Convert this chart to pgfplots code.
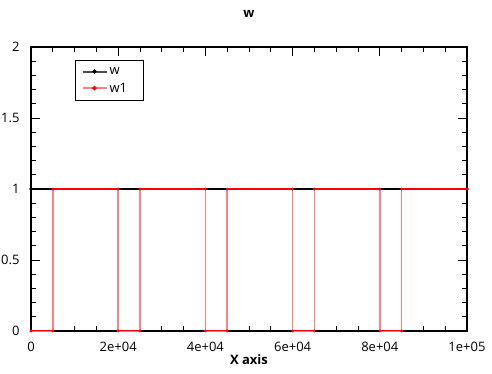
\documentclass[border=0pt]{standalone}
\usepackage{pgfplots}
\pgfplotsset{compat=1.18}
\usepackage{fontspec}
\setmainfont{Open Sans}
\definecolor{pinkred}{RGB}{255,128,128}
\begin{document}
\begin{tikzpicture}
\begin{axis}[name=ax,
  scale only axis, width=436pt, height=284pt,
  xmin=0, xmax=100000, ymin=0, ymax=2,
  xtick={0,20000,40000,60000,80000,100000},
  xticklabels={0,2e+04,4e+04,6e+04,8e+04,1e+05},
  minor x tick num=3,
  ytick={0,0.5,1,1.5,2},
  yticklabels={0,0.5,1,1.5,2},
  minor y tick num=4,
  scaled x ticks=false,
  tick align=inside,
  major tick length=9pt, minor tick length=5pt,
  every tick/.style={black, line width=1pt},
  axis line style={line width=1.2pt},
  tick label style={font=\fontsize{13}{15}\selectfont},
  xticklabel style={yshift=-8pt},
  yticklabel style={xshift=-8pt},
  xlabel={\bfseries X axis}, xlabel style={font=\fontsize{13}{15}\selectfont, yshift=4pt},
  title={\bfseries w}, title style={font=\fontsize{13}{15}\selectfont, yshift=20pt},
  legend style={at={(0.101,0.955)}, anchor=north west, draw=black, line width=1pt,
    font=\fontsize{13}{15}\selectfont, inner xsep=6pt, inner ysep=5pt, row sep=3pt,
    cells={anchor=west, inner xsep=6pt}},
  legend image code/.code={
    \draw[#1, line width=2pt, mark repeat=2, mark phase=2, mark size=1pt] plot coordinates {(0pt,0pt) (12pt,0pt) (24pt,0pt)};},
  unbounded coords=jump,
]
\addplot[black!70, line width=2pt, mark=*, mark size=0.4pt, mark options={black}] coordinates {
(0,1) (100000,1)};
\addlegendentry{w\rule{14pt}{0pt}}
\addplot[pinkred, line width=1.6pt, mark=*, mark size=0.4pt, mark options={red}] coordinates {
(0,0) (5000,0) (5000,1) (20000,1) (20000,0) (25000,0) (25000,1)
(40000,1) (40000,0) (45000,0) (45000,1) (60000,1) (60000,0) (65000,0) (65000,1)
(80000,1) (80000,0) (85000,0) (85000,1) (100000,1)};
\addlegendentry{w1\rule{8pt}{0pt}}
\addplot[black, line width=2pt, forget plot] coordinates {(0,1) (100000,1)};
\addplot[red, line width=2.4pt, forget plot] coordinates {
(5000,1) (20000,1) (20000,nan) (25000,1) (40000,1) (40000,nan) (45000,1) (60000,1) (60000,nan)
(65000,1) (80000,1) (80000,nan) (85000,1) (100000,1)};
\addplot[red, line width=0.6pt, forget plot] coordinates {
(0,0.003) (5000,0.003) (5000,nan) (20000,0.003) (25000,0.003) (25000,nan)
(40000,0.003) (45000,0.003) (45000,nan) (60000,0.003) (65000,0.003) (65000,nan)
(80000,0.003) (85000,0.003)};
\end{axis}
\pgfresetboundingbox
\path ([shift={(-31pt,-42pt)}]ax.south west) rectangle ([shift={(25pt,47pt)}]ax.north east);
\end{tikzpicture}
\end{document}
